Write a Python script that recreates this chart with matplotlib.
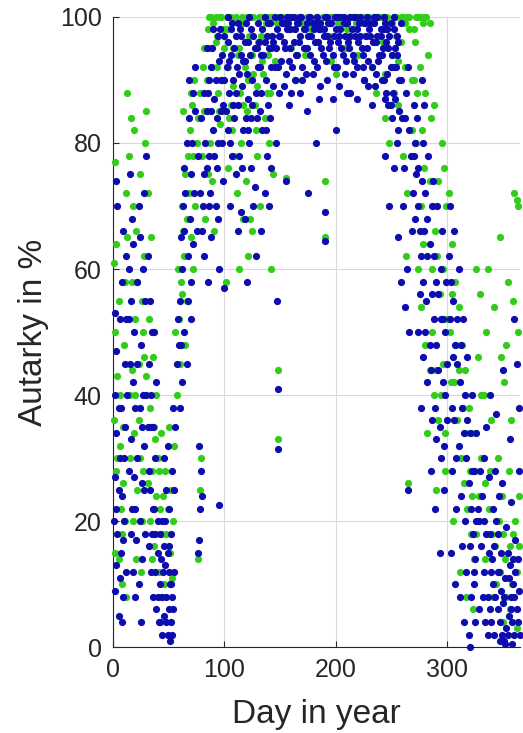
import numpy as np
import matplotlib.pyplot as plt

# autarky per day, (day, percent)
green_pts = [
    (2, 77), (3, 64), (1, 61), (5, 55), (2, 50), (4, 43), (1, 36), (6, 32), (3, 28), (7, 22),
    (2, 15), (5, 14), (8, 10), (10, 48), (11, 58), (12, 72), (9, 35), (13, 88), (8, 18),
    (16, 84), (19, 82), (14, 78), (18, 70), (21, 66), (17, 58), (20, 52), (23, 45), (15, 40),
    (19, 34), (22, 25), (18, 20), (25, 12), (27, 28), (26, 55), (28, 62), (30, 85), (29, 80),
    (24, 75), (27, 50), (23, 36), (29, 40), (21, 14),
    (4, 30), (6, 40), (9, 26), (11, 20), (13, 65), (15, 30), (17, 44), (20, 40), (22, 58),
    (24, 30), (26, 20), (28, 46), (31, 26), (33, 20), (35, 14), (37, 35), (39, 40), (41, 28),
    (43, 34), (45, 24), (12, 8),
    (31, 72), (34, 65), (32, 52), (36, 46), (33, 38), (38, 33), (35, 28), (39, 24), (37, 16),
    (41, 12), (43, 8), (40, 30), (42, 22), (44, 18), (30, 43),
    (47, 28), (49, 22), (51, 15), (53, 11), (48, 18), (52, 25), (55, 32), (57, 40), (54, 20),
    (50, 35), (56, 50), (46, 10),
    (59, 52), (61, 58), (63, 66), (65, 75), (67, 78), (69, 82), (71, 86), (73, 90), (62, 70),
    (64, 62), (66, 55), (60, 45), (68, 72), (70, 65), (72, 78), (74, 70), (75, 80), (63, 85),
    (66, 68), (70, 88), (72, 60), (76, 84), (62, 56), (58, 60), (65, 48),
    (76, 14), (79, 30), (78, 25),
    (80, 78), (82, 85), (84, 90), (86, 95), (88, 100), (90, 99), (92, 96), (94, 88), (96, 83),
    (98, 90), (100, 95), (83, 68), (87, 80), (89, 74), (91, 66), (93, 92), (95, 85), (97, 100),
    (99, 98), (81, 92), (85, 75), (101, 58),
    (78, 88), (82, 95), (85, 98), (89, 92), (93, 97), (98, 85), (103, 92), (108, 89), (113, 95),
    (117, 86), (121, 90), (125, 94), (129, 89), (134, 93), (138, 88), (104, 84), (109, 78),
    (117, 68), (121, 62),
    (102, 98), (104, 100), (106, 86), (108, 95), (110, 100), (112, 94), (114, 88), (116, 99),
    (118, 92), (120, 85), (122, 97), (124, 100), (126, 91), (128, 82), (130, 96), (103, 76),
    (107, 82), (111, 72), (115, 80), (119, 74), (123, 68), (127, 86), (129, 78), (113, 60),
    (125, 66),
    (131, 100), (133, 97), (135, 91), (137, 99), (139, 94), (141, 88), (143, 100), (145, 93),
    (147, 99), (149, 100), (136, 84), (140, 80), (144, 75), (142, 60), (148, 44), (148, 33),
    (132, 70), (155, 74.5), (190, 74), (190, 65),
    (86, 100), (92, 100), (96, 100), (102, 100), (106, 100), (116, 100), (120, 100), (126, 100),
    (134, 100), (140, 100), (152, 100), (156, 100), (168, 100), (176, 100), (188, 100),
    (196, 100), (212, 100), (224, 100), (228, 100), (240, 100), (252, 100), (260, 100),
    (264, 100), (272, 100), (276, 100), (280, 100), (284, 99),
    (150, 100), (154, 99), (158, 100), (162, 98), (166, 100), (170, 99), (174, 100), (178, 98),
    (182, 100), (186, 99), (190, 100), (194, 97), (198, 100), (202, 99), (206, 100), (210, 98),
    (214, 100), (218, 99), (222, 100), (226, 97), (230, 100), (234, 99), (238, 100), (242, 96),
    (246, 100), (250, 99), (254, 97), (258, 100), (262, 99), (266, 100), (270, 98), (274, 100),
    (278, 99), (160, 95), (172, 94), (184, 96), (196, 93), (208, 95), (220, 94), (232, 92),
    (244, 91), (256, 93), (268, 90), (164, 90), (200, 91), (236, 88), (248, 86),
    (242, 100), (246, 98), (250, 94), (254, 100), (258, 96), (262, 92), (266, 98), (270, 90),
    (244, 84), (248, 80), (256, 86), (260, 78), (264, 72), (268, 82), (252, 88), (265, 26),
    (263, 62),
    (271, 96), (273, 88), (275, 92), (277, 82), (279, 76), (281, 100), (283, 94), (285, 84),
    (287, 70), (289, 66), (291, 62), (293, 56), (295, 80), (297, 76), (299, 70), (276, 54),
    (280, 48), (284, 44), (288, 40), (292, 36), (296, 45), (298, 28), (290, 25), (286, 60),
    (282, 34),
    (272, 80), (276, 70), (280, 88), (284, 74), (288, 86), (292, 74), (296, 60), (300, 52),
    (278, 64), (286, 50), (290, 44), (294, 40), (298, 34), (274, 60),
    (301, 72), (304, 64), (307, 58), (310, 54), (313, 48), (316, 44), (319, 38), (322, 34),
    (325, 28), (328, 24), (302, 50), (306, 42), (309, 36), (312, 30), (315, 26), (318, 22),
    (321, 18), (324, 14), (327, 46), (330, 40), (305, 20), (311, 12), (317, 8), (323, 6),
    (329, 56), (326, 60),
    (303, 42), (308, 48), (314, 38), (320, 28), (326, 18), (330, 30), (304, 56), (310, 44),
    (316, 34), (322, 24),
    (331, 30), (334, 26), (337, 22), (340, 18), (343, 16), (346, 20), (349, 24), (352, 14),
    (355, 28), (358, 10), (361, 20), (364, 16), (333, 40), (339, 36), (345, 30), (351, 42),
    (357, 36), (363, 50), (335, 50), (342, 54), (348, 46), (354, 58), (360, 72), (362, 71),
    (363, 70), (359, 55), (336, 60), (347, 65), (353, 48), (344, 10), (356, 6), (350, 4),
    (362, 3),
    (334, 14), (341, 8), (347, 12), (353, 8), (359, 18), (364, 24), (338, 28), (350, 18),
    (356, 16), (362, 12),
]

blue_pts = [
    (4, 70), (2, 53), (6, 52), (3, 47), (2, 40), (5, 38), (3, 34), (6, 30), (2, 27), (8, 24),
    (4, 18), (9, 17), (3, 13), (6, 11), (2, 9), (5, 5), (8, 4), (10, 30), (11, 45), (12, 62),
    (9, 66), (7, 38), (10, 20), (12, 12), (3, 74),
    (15, 75), (17, 68), (18, 64), (14, 60), (16, 55), (19, 50), (15, 45), (18, 42), (20, 38),
    (16, 33), (22, 30), (19, 27), (17, 22), (24, 20), (21, 17), (26, 14), (23, 10), (28, 25),
    (27, 40), (25, 48), (29, 55), (24, 65), (28, 72), (30, 78), (22, 58), (26, 35), (29, 18),
    (20, 8), (25, 4), (14, 28),
    (1, 20), (3, 22), (5, 25), (7, 15), (9, 8), (11, 35), (13, 40), (14, 52), (16, 18),
    (18, 12), (20, 22), (22, 45), (24, 38), (26, 26), (28, 32), (30, 40), (32, 16), (34, 12),
    (36, 22), (38, 18), (40, 8), (42, 4), (44, 20), (46, 16), (48, 4), (50, 16), (52, 10),
    (53, 2), (37, 50), (31, 35), (27, 60), (23, 70), (12, 52), (8, 58),
    (31, 62), (33, 55), (35, 50), (32, 45), (34, 40), (36, 35), (38, 30), (33, 25), (37, 22),
    (35, 18), (40, 15), (38, 12), (42, 10), (36, 8), (39, 6), (41, 4), (44, 2), (43, 14),
    (40, 20), (32, 28), (34, 35), (39, 42), (44, 8), (42, 18), (45, 12),
    (46, 30), (48, 25), (47, 20), (49, 15), (50, 12), (51, 10), (48, 8), (50, 6), (52, 4),
    (49, 2), (51, 1), (53, 8), (47, 13), (52, 18), (55, 12), (54, 6), (46, 5), (50, 22),
    (53, 28), (56, 35), (55, 25), (57, 45), (54, 38), (49, 32),
    (59, 48), (60, 55), (62, 60), (61, 65), (63, 70), (65, 72), (64, 76), (66, 80), (68, 84),
    (70, 75), (62, 42), (64, 50), (67, 62), (69, 68), (71, 80), (72, 88), (74, 85), (73, 72),
    (75, 66), (60, 38), (66, 45), (70, 58), (58, 52), (68, 90), (74, 92),
    (77, 17), (78, 22), (79, 28), (77, 32), (80, 24), (76, 15),
    (81, 70), (82, 75), (83, 80), (84, 85), (85, 88), (86, 78), (87, 72), (88, 92), (89, 95),
    (90, 82), (91, 87), (92, 90), (93, 76), (94, 68), (95, 93), (96, 98), (97, 85), (98, 80),
    (99, 74), (100, 90), (82, 62), (85, 58), (88, 65), (92, 70), (95, 60), (95, 22.5), (100, 57),
    (84, 95), (90, 98), (94, 97), (98, 94), (86, 90), (91, 78),
    (100, 97), (103, 100), (106, 98), (109, 95), (112, 99), (115, 97), (118, 93), (121, 96),
    (124, 98), (127, 95), (130, 92), (133, 94), (136, 96), (139, 99), (142, 95), (145, 92),
    (104, 93), (108, 86), (113, 91), (117, 93), (121, 82), (125, 86), (129, 84), (132, 85),
    (137, 82), (141, 84), (144, 96), (94, 80), (97, 90), (88, 85), (84, 76), (80, 66), (79, 84),
    (76, 78), (72, 64), (70, 52), (67, 55), (64, 66), (61, 48), (78, 72), (82, 88), (86, 70),
    (93, 84), (99, 86), (103, 82), (110, 88), (116, 76), (119, 84),
    (101, 85), (102, 92), (103, 96), (104, 88), (105, 80), (106, 94), (107, 99), (108, 90),
    (109, 84), (110, 97), (111, 92), (112, 86), (113, 78), (114, 98), (115, 94), (116, 89),
    (117, 82), (118, 96), (119, 99), (120, 91), (121, 87), (122, 100), (123, 94), (124, 84),
    (125, 90), (126, 97), (127, 73), (128, 88), (129, 95), (130, 99), (105, 70), (110, 75),
    (115, 69), (118, 68), (120, 58), (124, 76), (128, 62), (112, 66), (107, 78), (122, 80),
    (126, 70),
    (131, 96), (132, 92), (133, 88), (134, 98), (135, 94), (136, 100), (137, 90), (138, 97),
    (139, 86), (140, 95), (141, 99), (142, 92), (143, 97), (144, 89), (145, 100), (146, 95),
    (147, 98), (148, 92), (149, 97), (134, 82), (138, 78), (142, 76), (146, 80), (149, 88),
    (147, 55), (148, 41), (148, 31.5), (133, 66), (140, 70), (136, 72),
    (150, 97), (152, 99), (154, 95), (156, 98), (158, 93), (160, 100), (162, 96), (164, 94),
    (166, 99), (168, 97), (170, 92), (172, 98), (174, 95), (176, 100), (178, 97), (180, 93),
    (182, 99), (184, 96), (186, 98), (188, 94), (190, 100), (192, 97), (194, 95), (196, 99),
    (198, 92), (200, 98), (202, 96), (204, 100), (206, 94), (208, 97), (210, 99), (212, 95),
    (214, 98), (216, 93), (218, 100), (220, 96), (222, 97), (224, 94), (226, 99), (228, 95),
    (230, 98), (232, 92), (234, 100), (236, 96), (238, 93), (240, 98), (242, 95), (244, 99),
    (246, 91), (248, 97), (250, 94), (252, 98), (254, 92), (256, 96), (258, 90),
    (151, 93), (153, 96), (155, 91), (157, 99), (159, 95), (161, 92), (163, 98), (165, 94),
    (167, 96), (169, 100), (171, 95), (173, 91), (175, 97), (177, 94), (179, 99), (181, 96),
    (183, 92), (185, 98), (187, 95), (189, 97), (191, 93), (193, 99), (195, 96), (197, 94),
    (199, 100), (201, 92), (203, 97), (205, 95), (207, 99), (209, 93), (211, 96), (213, 100),
    (215, 94), (217, 97), (219, 92), (221, 99), (223, 95), (225, 90), (227, 97), (229, 93),
    (231, 99), (233, 96), (235, 89), (237, 97), (239, 94), (241, 90), (243, 98), (245, 88),
    (247, 95), (249, 86), (251, 92), (253, 87), (255, 94), (257, 85),
    (150, 100), (153, 99), (156, 100), (159, 98), (162, 100), (165, 99), (168, 100), (171, 98),
    (174, 99), (177, 100), (180, 98), (183, 100), (186, 99), (189, 98), (192, 100), (195, 99),
    (198, 97), (201, 100), (204, 98), (207, 100), (210, 99), (213, 97), (216, 100), (219, 98),
    (222, 100), (225, 99), (228, 100), (231, 97), (234, 99), (237, 100), (240, 97), (243, 100),
    (246, 98), (249, 99), (252, 100), (255, 97), (258, 99),
    (153, 89), (158, 86), (163, 90), (168, 88), (174, 85), (179, 91), (186, 89), (192, 90),
    (197, 87), (203, 89), (208, 91), (213, 88), (219, 87), (224, 92), (229, 89), (236, 91),
    (244, 87), (250, 84), (256, 82),
    (155, 74), (175, 72), (190, 69), (190, 64.5), (200, 82), (210, 88), (225, 90), (232, 86),
    (160, 88), (170, 90), (185, 87), (215, 91), (182, 80),
    (241, 94), (243, 90), (245, 96), (247, 86), (249, 92), (251, 88), (253, 95), (255, 80),
    (257, 90), (259, 84), (261, 76), (263, 88), (265, 92), (267, 78), (269, 72), (244, 78),
    (248, 70), (252, 76), (256, 65), (260, 70), (264, 60), (268, 66), (262, 54), (258, 58),
    (266, 50), (265, 25), (270, 86),
    (262, 84), (266, 82), (270, 78), (274, 76), (278, 80), (282, 62), (286, 70), (290, 58),
    (294, 52), (298, 50), (275, 56), (280, 50), (284, 48), (288, 62), (292, 56), (296, 42),
    (300, 36), (279, 66), (285, 44), (289, 38), (293, 35), (297, 32), (277, 74), (271, 68),
    (271, 80), (272, 75), (274, 70), (275, 66), (276, 62), (278, 58), (280, 72), (282, 68),
    (284, 64), (286, 56), (288, 52), (290, 48), (292, 44), (294, 60), (296, 52), (298, 40),
    (273, 84), (277, 90), (279, 86), (283, 78), (287, 74), (291, 70), (295, 66), (299, 58),
    (274, 50), (278, 46), (282, 42), (286, 36), (290, 33), (294, 30), (285, 28), (289, 22),
    (293, 15), (297, 25), (281, 55), (276, 38),
    (301, 62), (303, 58), (305, 55), (307, 48), (309, 45), (311, 42), (313, 38), (315, 34),
    (317, 30), (319, 26), (321, 22), (323, 18), (325, 14), (302, 70), (306, 66), (310, 60),
    (314, 52), (318, 46), (322, 40), (326, 34), (329, 28), (304, 38), (308, 30), (312, 24),
    (316, 20), (320, 16), (324, 10), (328, 6), (300, 45), (303, 15), (307, 10), (311, 8),
    (315, 4), (319, 2), (320, 0), (324, 12), (327, 22),
    (302, 52), (305, 46), (309, 52), (312, 48), (316, 40), (320, 34), (324, 28), (328, 20),
    (304, 28), (308, 22), (313, 16), (317, 12), (321, 8), (325, 4), (330, 16), (306, 36),
    (310, 32), (318, 36), (322, 28), (326, 20),
    (331, 24), (333, 20), (335, 18), (337, 15), (339, 12), (341, 10), (343, 8), (345, 6),
    (347, 4), (349, 2), (351, 1), (353, 3), (355, 5), (357, 8), (359, 10), (361, 12), (363, 14),
    (332, 8), (334, 4), (336, 2), (338, 6), (340, 14), (342, 16), (344, 20), (346, 12),
    (348, 9), (350, 7), (352, 11), (354, 15), (356, 13), (358, 4), (360, 2), (362, 6), (364, 9),
    (333, 30), (337, 27), (341, 22), (345, 18), (349, 26), (353, 19), (357, 23), (361, 17),
    (364, 28), (338, 40), (344, 37), (350, 44), (356, 33), (362, 45), (360, 52), (364, 38),
    (347, 1), (352, 0.5), (358, 0.5),
    (333, 12), (336, 8), (339, 4), (342, 2), (345, 12), (348, 15), (351, 8), (354, 2),
    (357, 6), (360, 8), (363, 4), (365, 2), (338, 18), (346, 24), (355, 11), (359, 14),
    (343, 28), (335, 35),
]

x_ticks = [0, 100, 200, 300]
y_ticks = [0, 20, 40, 60, 80, 100]

plt.rcParams['font.family'] = ['Liberation Sans', 'DejaVu Sans']
txt = '#262626'

fig = plt.figure(figsize=(5.23, 7.33), dpi=100)
ax = fig.add_axes([0.216, 0.117, 0.778, 0.86])

g = np.array(green_pts)
b = np.array(blue_pts)
ax.scatter(g[:, 0], g[:, 1], s=27, color=(0.2, 0.8, 0.1), linewidths=0, zorder=3, clip_on=False)
ax.scatter(b[:, 0], b[:, 1], s=27, color=(0.05, 0.05, 0.68), linewidths=0, zorder=4, clip_on=False)

ax.set_xlim(0, 365)
ax.set_ylim(0, 100)
ax.set_xticks(x_ticks)
ax.set_yticks(y_ticks)
ax.grid(True, color='#d9d9d9', linewidth=0.8)
ax.set_axisbelow(True)
for side in ['top', 'right']:
    ax.spines[side].set_visible(False)
for side in ['left', 'bottom']:
    ax.spines[side].set_color('#262626')
ax.tick_params(direction='in', length=4, labelsize=18, colors=txt, pad=8)
ax.set_xlabel('Day in year', fontsize=24, color=txt, labelpad=12)
ax.set_ylabel('Autarky in %', fontsize=24, color=txt, labelpad=8)

fig.savefig('out.png', dpi=100)
